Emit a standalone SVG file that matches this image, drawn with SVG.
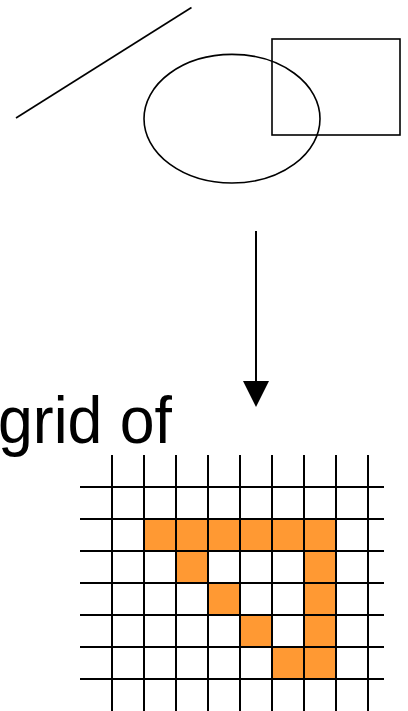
<svg xmlns="http://www.w3.org/2000/svg" width="408" height="711" viewBox="0 0 408 711">
<defs>
<style>
.s{fill:none;stroke:#000;stroke-width:1.6}
.g{stroke:#000;stroke-width:2}
.c{fill:#FF9933;stroke:none}
.t{font-family:"Liberation Sans",Arial,sans-serif;font-size:66px;fill:#000}
</style>
</defs>
<rect width="408" height="711" fill="#fff"/>
<g id="shapes">
<line class="s" x1="16" y1="118" x2="191.5" y2="7.5"/>
<ellipse class="s" cx="232" cy="118.7" rx="88" ry="64.3"/>
<rect class="s" x="272" y="39" width="128" height="96"/>
</g>
<g id="connectors">
<line x1="256" y1="231" x2="256" y2="383" stroke="#000" stroke-width="2"/>
<polygon points="243,381 269,381 256,407" fill="#000"/>
</g>
<g id="label">
<text class="t" x="-2" y="443" textLength="174" lengthAdjust="spacingAndGlyphs">grid of</text>
</g>
<g id="grid">
<g id="cells">
<rect class="c" x="144" y="519" width="192" height="32"/>
<rect class="c" x="176" y="551" width="32" height="32"/>
<rect class="c" x="304" y="551" width="32" height="128"/>
<rect class="c" x="208" y="583" width="32" height="32"/>
<rect class="c" x="240" y="615" width="32" height="32"/>
<rect class="c" x="272" y="647" width="32" height="32"/>
</g>
<g id="lines" class="g">
<line x1="112" y1="455" x2="112" y2="711"/>
<line x1="144" y1="455" x2="144" y2="711"/>
<line x1="176" y1="455" x2="176" y2="711"/>
<line x1="208" y1="455" x2="208" y2="711"/>
<line x1="240" y1="455" x2="240" y2="711"/>
<line x1="272" y1="455" x2="272" y2="711"/>
<line x1="304" y1="455" x2="304" y2="711"/>
<line x1="336" y1="455" x2="336" y2="711"/>
<line x1="368" y1="455" x2="368" y2="711"/>
<line x1="80" y1="487" x2="384" y2="487"/>
<line x1="80" y1="519" x2="384" y2="519"/>
<line x1="80" y1="551" x2="384" y2="551"/>
<line x1="80" y1="583" x2="384" y2="583"/>
<line x1="80" y1="615" x2="384" y2="615"/>
<line x1="80" y1="647" x2="384" y2="647"/>
<line x1="80" y1="679" x2="384" y2="679"/>
</g>
</g>
</svg>
